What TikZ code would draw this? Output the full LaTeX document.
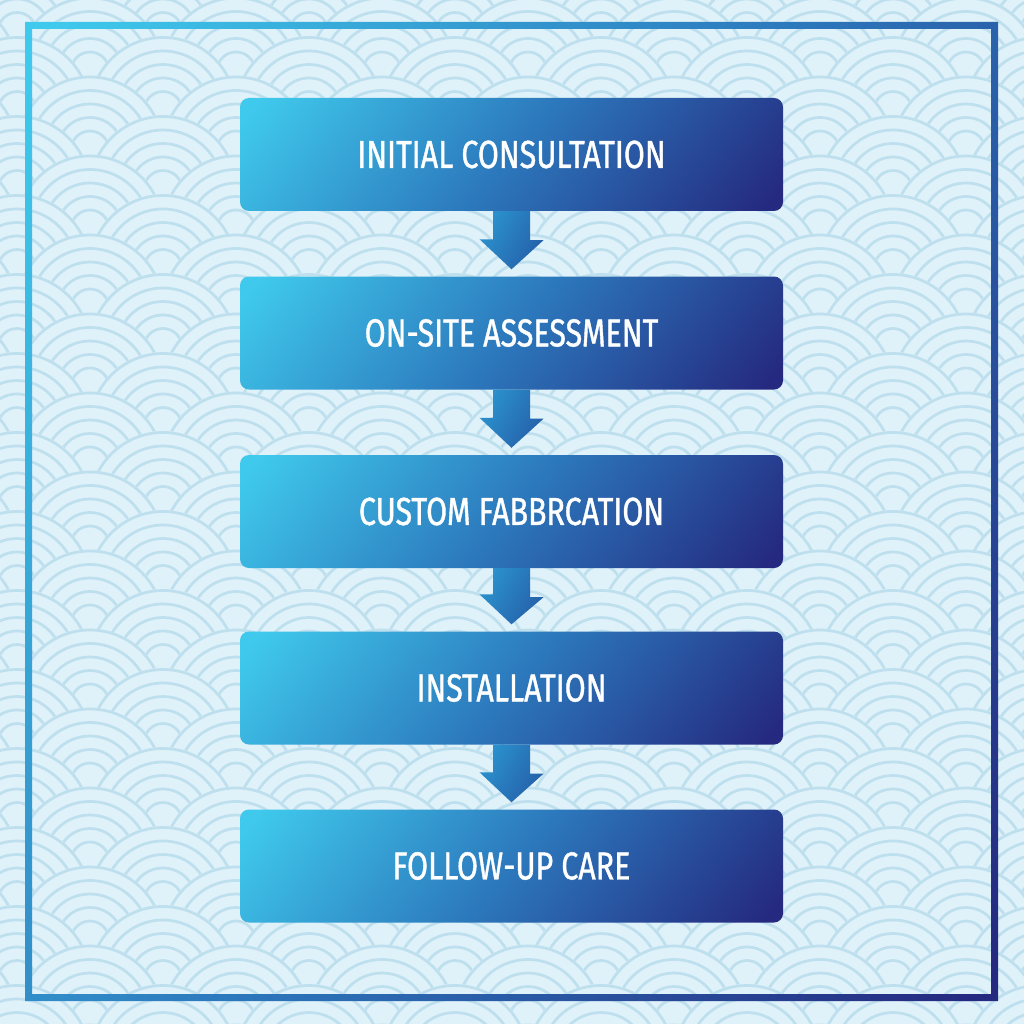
\documentclass[tikz,border=0pt]{standalone}
\usepackage{fontspec}
\newfontfamily\stepfont[FakeStretch=0.78, FakeBold=1]{Fira Sans}
\definecolor{wavebg}{HTML}{DFF1F9}
\definecolor{waveline}{HTML}{BEDFED}
\definecolor{stepcyan}{HTML}{3FC9EC}
\definecolor{stepmid}{HTML}{2C78BC}
\definecolor{stepnavy}{HTML}{252A80}
\definecolor{arrowlight}{HTML}{2B92CE}
\definecolor{arrowdark}{HTML}{2560A9}
\pgfdeclarehorizontalshading{stepshade}{100bp}{color(0bp)=(stepcyan); color(17bp)=(stepcyan); color(50bp)=(stepmid); color(83bp)=(stepnavy); color(100bp)=(stepnavy)}
\pgfdeclarehorizontalshading{arrowshade}{100bp}{color(0bp)=(arrowlight); color(25bp)=(arrowlight); color(75bp)=(arrowdark); color(100bp)=(arrowdark)}
\tikzset{
  stepbox/.style={rectangle, rounded corners=9pt, minimum width=543pt, minimum height=113pt, inner sep=0pt,
    shading=stepshade, shading angle=-40, text=white, font=\stepfont\fontsize{39}{42}\selectfont},
  downarrow/.style={shading=arrowshade, shading angle=-30},
  waveline/.style={draw=waveline, line width=2.7pt}
}
\begin{document}
\begin{tikzpicture}[x=1pt,y=-1pt]
    \useasboundingbox (0,0) rectangle (1024,1024);
    \fill[wavebg] (0,0) rectangle (1024,1024);

    % Seigaiha background
    \begin{scope}
    \clip (0,0) rectangle (1024,1024);
    \foreach \k in {-1,...,27}{
        \pgfmathsetmacro{\cy}{-41.5+39.5*\k+73}
        \pgfmathsetmacro{\off}{mod(\k,2)==0 ? 73 : 0}
        \foreach \i in {-1,...,6}{
            \pgfmathsetmacro{\cx}{90+146*\i+\off}
            \fill[wavebg] (\cx,\cy) circle[radius=74.5];
            \foreach \r in {73,59.5,46,32.5,19}
                \draw[waveline] (\cx,\cy) circle[radius=\r];
        }
    }
    \end{scope}

    % Frame
    \shade[shading=stepshade, shading angle=-30, even odd rule] (25,22) rectangle (998,1001) (32,29) rectangle (991,994);

    % Steps
    \node[stepbox] (consult) at (511.5,154.5) {INITIAL CONSULTATION};
    \node[stepbox] (assess) at (511.5,333) {ON-SITE ASSESSMENT};
    \node[stepbox] (fabric) at (511.5,511.5) {CUSTOM FABBRCATION};
    \node[stepbox] (install) at (511.5,688) {INSTALLATION};
    \node[stepbox] (care) at (511.5,866) {FOLLOW-UP CARE};

    % Arrows
    \foreach \a/\b in {consult/assess, assess/fabric, fabric/install, install/care}
        \shade[downarrow] ([xshift=-18.5pt]\a.south) -- ([xshift=18.5pt]\a.south) -- ++(0,29) -- ++(13.5,0)
            -- ([yshift=7pt]\b.north) -- ++(-32,-30) -- ++(13.5,0) -- cycle;
\end{tikzpicture}
\end{document}
